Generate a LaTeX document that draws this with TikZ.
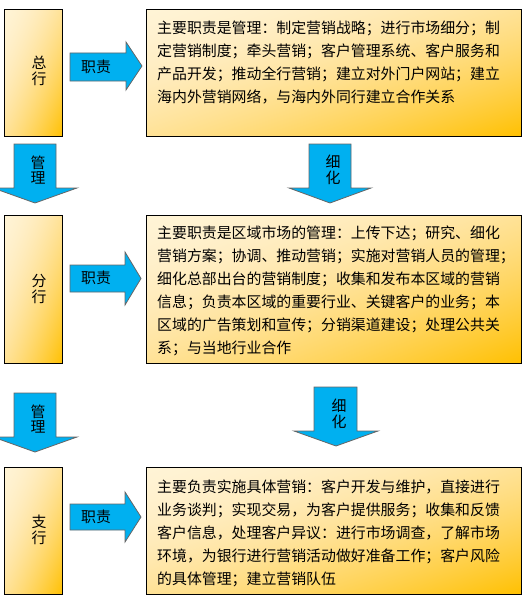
\documentclass[tikz,border=0pt]{standalone}
\usepackage{fontspec}
\setmainfont{Noto Sans CJK SC}
\definecolor{arrowblue}{HTML}{00B0F0}
% light (FFF4D6) at the top left, orange (FFC000) at the bottom right
\pgfdeclarefunctionalshading{levelshade}{\pgfpointorigin}{\pgfpoint{100bp}{100bp}}{}{
    25 sub 50 div exch 25 sub 50 div exch
    1 exch sub add 2 div
    dup dup dup mul 0.6 mul exch 0.4 mul add
    -0.204 mul 0.957 add
    exch dup dup mul 0.8 mul exch 0.2 mul add
    -0.839 mul 0.839 add
    1 3 1 roll
}
\tikzset{
    levelbox/.style={draw=black, line width=0.9pt, shading=levelshade, anchor=north west, inner sep=0pt},
    blockarrow/.style={draw=black!60, line width=0.8pt, fill=arrowblue, line join=miter},
    cjktext/.style={font=\fontsize{14.9pt}{23pt}\selectfont, inner sep=0pt, align=left, anchor=north west},
    arrowtext/.style={font=\fontsize{14.9pt}{15.5pt}\selectfont, inner sep=0pt, align=center}
}
\begin{document}
\begin{tikzpicture}[x=1pt, y=-1pt]
    \useasboundingbox (0,0) rectangle (532,602);

    % 总行
    \node[levelbox, minimum width=58pt, minimum height=127pt] (zonghang) at (4,9) {};
    \node[arrowtext] (zonghanglbl) at (39,71) {总\\行};
    \node[levelbox, minimum width=375pt, minimum height=127pt] (zongduty) at (146,9) {};
    \node[cjktext] (zongtext) at (157,20.5) {主要职责是管理：制定营销战略；进行市场细分；制\\定营销制度；牵头营销；客户管理系统、客户服务和\\产品开发；推动全行营销；建立对外门户网站；建立\\海内外营销网络，与海内外同行建立合作关系};
    \draw[blockarrow] (70,53) -- (126,53) -- (126,42) -- (142,66) -- (126,90) -- (126,81) -- (70,81) -- cycle;
    \node[arrowtext] (zongzhize) at (96,67) {职责};

    % 总行 -> 分行
    \draw[blockarrow] (14,144) -- (56,144) -- (56,188) -- (77,188) -- (35,203) -- (-7,188) -- (14,188) -- cycle;
    \node[arrowtext] (guanli1) at (38,170) {管\\理};
    \draw[blockarrow] (309,144) -- (351,144) -- (351,188) -- (371,188) -- (330,203) -- (289,188) -- (309,188) -- cycle;
    \node[arrowtext] (xihua1) at (333,170) {细\\化};

    % 分行
    \node[levelbox, minimum width=58pt, minimum height=148pt] (fenhang) at (4,215) {};
    \node[arrowtext] (fenhanglbl) at (39,289) {分\\行};
    \node[levelbox, minimum width=375pt, minimum height=148pt] (fenduty) at (146,215) {};
    \node[cjktext] (fentext) at (157,225.5) {主要职责是区域市场的管理：上传下达；研究、细化\\营销方案；协调、推动营销；实施对营销人员的管理；\\细化总部出台的营销制度；收集和发布本区域的营销\\信息；负责本区域的重要行业、关键客户的业务；本\\区域的广告策划和宣传；分销渠道建设；处理公共关\\系；与当地行业合作};
    \draw[blockarrow] (70,265) -- (125,265) -- (125,252) -- (141,278.5) -- (125,305) -- (125,292) -- (70,292) -- cycle;
    \node[arrowtext] (fenzhize) at (96,278) {职责};

    % 分行 -> 支行
    \draw[blockarrow] (14,393) -- (56,393) -- (56,437) -- (77,437) -- (35,452) -- (-7,437) -- (14,437) -- cycle;
    \node[arrowtext] (guanli2) at (38,419) {管\\理};
    \draw[blockarrow] (314,387) -- (357,387) -- (357,431) -- (378,431) -- (336,446) -- (294,431) -- (314,431) -- cycle;
    \node[arrowtext] (xihua2) at (339,414) {细\\化};

    % 支行
    \node[levelbox, minimum width=58pt, minimum height=127pt] (zhihang) at (4,467) {};
    \node[arrowtext] (zhihanglbl) at (39,530) {支\\行};
    \node[levelbox, minimum width=375pt, minimum height=127pt] (zhiduty) at (146,467) {};
    \node[cjktext] (zhitext) at (157,479.5) {主要负责实施具体营销：客户开发与维护，直接进行\\业务谈判；实现交易，为客户提供服务；收集和反馈\\客户信息，处理客户异议：进行市场调查，了解市场\\环境，为银行进行营销活动做好准备工作；客户风险\\的具体管理；建立营销队伍};
    \draw[blockarrow] (70,504) -- (125,504) -- (125,492) -- (141,517) -- (125,542) -- (125,530) -- (70,530) -- cycle;
    \node[arrowtext] (zhizhize) at (96,517) {职责};
\end{tikzpicture}
\end{document}
